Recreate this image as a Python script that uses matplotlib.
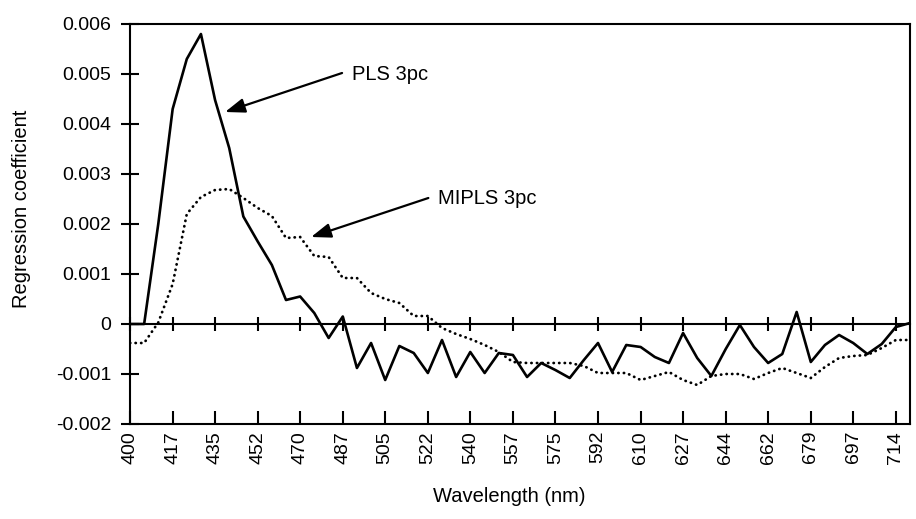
import matplotlib
matplotlib.use("Agg")
import matplotlib.pyplot as plt

plt.rcParams["font.family"] = ["Liberation Sans", "DejaVu Sans"]

# wavelength grid (nm), one point per spectral channel
wavelength = [
    400.0, 405.8, 411.6, 417.5, 423.3, 429.1, 434.9, 440.7, 446.5, 452.4,
    458.2, 464.0, 469.8, 475.6, 481.5, 487.3, 493.1, 498.9, 504.7, 510.5,
    516.4, 522.2, 528.0, 533.8, 539.6, 545.5, 551.3, 557.1, 562.9, 568.7,
    574.5, 580.4, 586.2, 592.0, 597.8, 603.6, 609.5, 615.3, 621.1, 626.9,
    632.7, 638.5, 644.4, 650.2, 656.0, 661.8, 667.6, 673.5, 679.3, 685.1,
    690.9, 696.7, 702.5, 708.4, 714.2, 720.0,
]

pls_3pc = [
    0.0, 0.0, 0.0020, 0.0043, 0.0053, 0.0058, 0.00448, 0.00352, 0.00215, 0.00165,
    0.00118, 0.00048, 0.00055, 0.00022, -0.00028, 0.00015, -0.00088, -0.00038, -0.00112, -0.00044,
    -0.00058, -0.00098, -0.00032, -0.00106, -0.00056, -0.00098, -0.00058, -0.00062, -0.00106, -0.00078,
    -0.00092, -0.00108, -0.00072, -0.00038, -0.00096, -0.00042, -0.00046, -0.00066, -0.00078, -0.00018,
    -0.00068, -0.00104, -0.0005, -0.00002, -0.00046, -0.00078, -0.0006, 0.00024, -0.00076, -0.00042,
    -0.00022, -0.00038, -0.0006, -0.0004, -0.00006, 0.00002,
]

mipls_3pc = [
    -0.00038, -0.00038, 0.00003, 0.0008, 0.0022, 0.00254, 0.00268, 0.0027, 0.00252, 0.00232,
    0.00216, 0.00172, 0.00174, 0.00136, 0.00134, 0.00092, 0.00092, 0.00062, 0.0005, 0.00042,
    0.00016, 0.00016, -0.00008, -0.0002, -0.0003, -0.00042, -0.00056, -0.00076, -0.00078, -0.00078,
    -0.00078, -0.00078, -0.00084, -0.00098, -0.00098, -0.00098, -0.00112, -0.00104, -0.00096, -0.00112,
    -0.00122, -0.00104, -0.001, -0.001, -0.0011, -0.00098, -0.00088, -0.00098, -0.00108, -0.00086,
    -0.00068, -0.00064, -0.00062, -0.00048, -0.00032, -0.00032,
]

x_tick_labels = ["400", "417", "435", "452", "470", "487", "505", "522", "540", "557",
                 "575", "592", "610", "627", "644", "662", "679", "697", "714"]
y_ticks = [-0.002, -0.001, 0, 0.001, 0.002, 0.003, 0.004, 0.005, 0.006]
y_tick_labels = ["-0.002", "-0.001", "0", "0.001", "0.002", "0.003", "0.004", "0.005", "0.006"]

fig = plt.figure(figsize=(9.16, 5.19), dpi=100)
ax = fig.add_axes([130 / 916, 1 - 424 / 519, 780 / 916, 400 / 519])

ax.plot(wavelength, pls_3pc, color="black", lw=1.9)
ax.plot(wavelength, mipls_3pc, color="black", lw=2.0,
        linestyle=(0, (0.1, 1.9)), dash_capstyle="round")

ax.set_xlim(400, 720)
ax.set_ylim(-0.002, 0.006)

tick_pos = wavelength[::3]
ax.set_xticks(tick_pos)
ax.set_xticklabels(x_tick_labels, rotation=90)
ax.set_yticks(y_ticks)
ax.set_yticklabels(y_tick_labels)
ax.tick_params(axis="x", direction="in", length=9.5, width=1.5, pad=5, labelsize=14)
ax.tick_params(axis="y", direction="inout", length=13, width=1.5, pad=7, labelsize=14)
for s in ax.spines.values():
    s.set_linewidth(1.5)

# horizontal axis through zero with crossing ticks
zero_frac = (0 - (-0.002)) / 0.008
sec = ax.secondary_xaxis(zero_frac)
sec.set_xticks(tick_pos)
sec.tick_params(direction="inout", length=10, width=1.5, labelbottom=False)
sec.spines["bottom"].set_linewidth(1.5)

# labels
fig.text(22 / 916, 1 - 209 / 519, "Regression coefficient", rotation=90,
         ha="center", va="center", fontsize=14.5)
fig.text(509 / 916, 1 - 497 / 519, "Wavelength (nm)", ha="center", va="center", fontsize=14.5)

# annotations
arrow = dict(arrowstyle="-|>,head_length=0.6,head_width=0.22", color="black",
             lw=1.6, shrinkA=0, shrinkB=0, mutation_scale=20)
ax.annotate("", xy=(439.0, 0.00424), xytext=(487.0, 0.00502), arrowprops=arrow)
ax.text(491.2, 0.0050, "PLS 3pc", ha="left", va="center", fontsize=14.5)
ax.annotate("", xy=(474.3, 0.00174), xytext=(522.4, 0.00252), arrowprops=arrow)
ax.text(526.5, 0.0025, "MIPLS 3pc", ha="left", va="center", fontsize=14.5)

fig.savefig("out.png", dpi=100)
